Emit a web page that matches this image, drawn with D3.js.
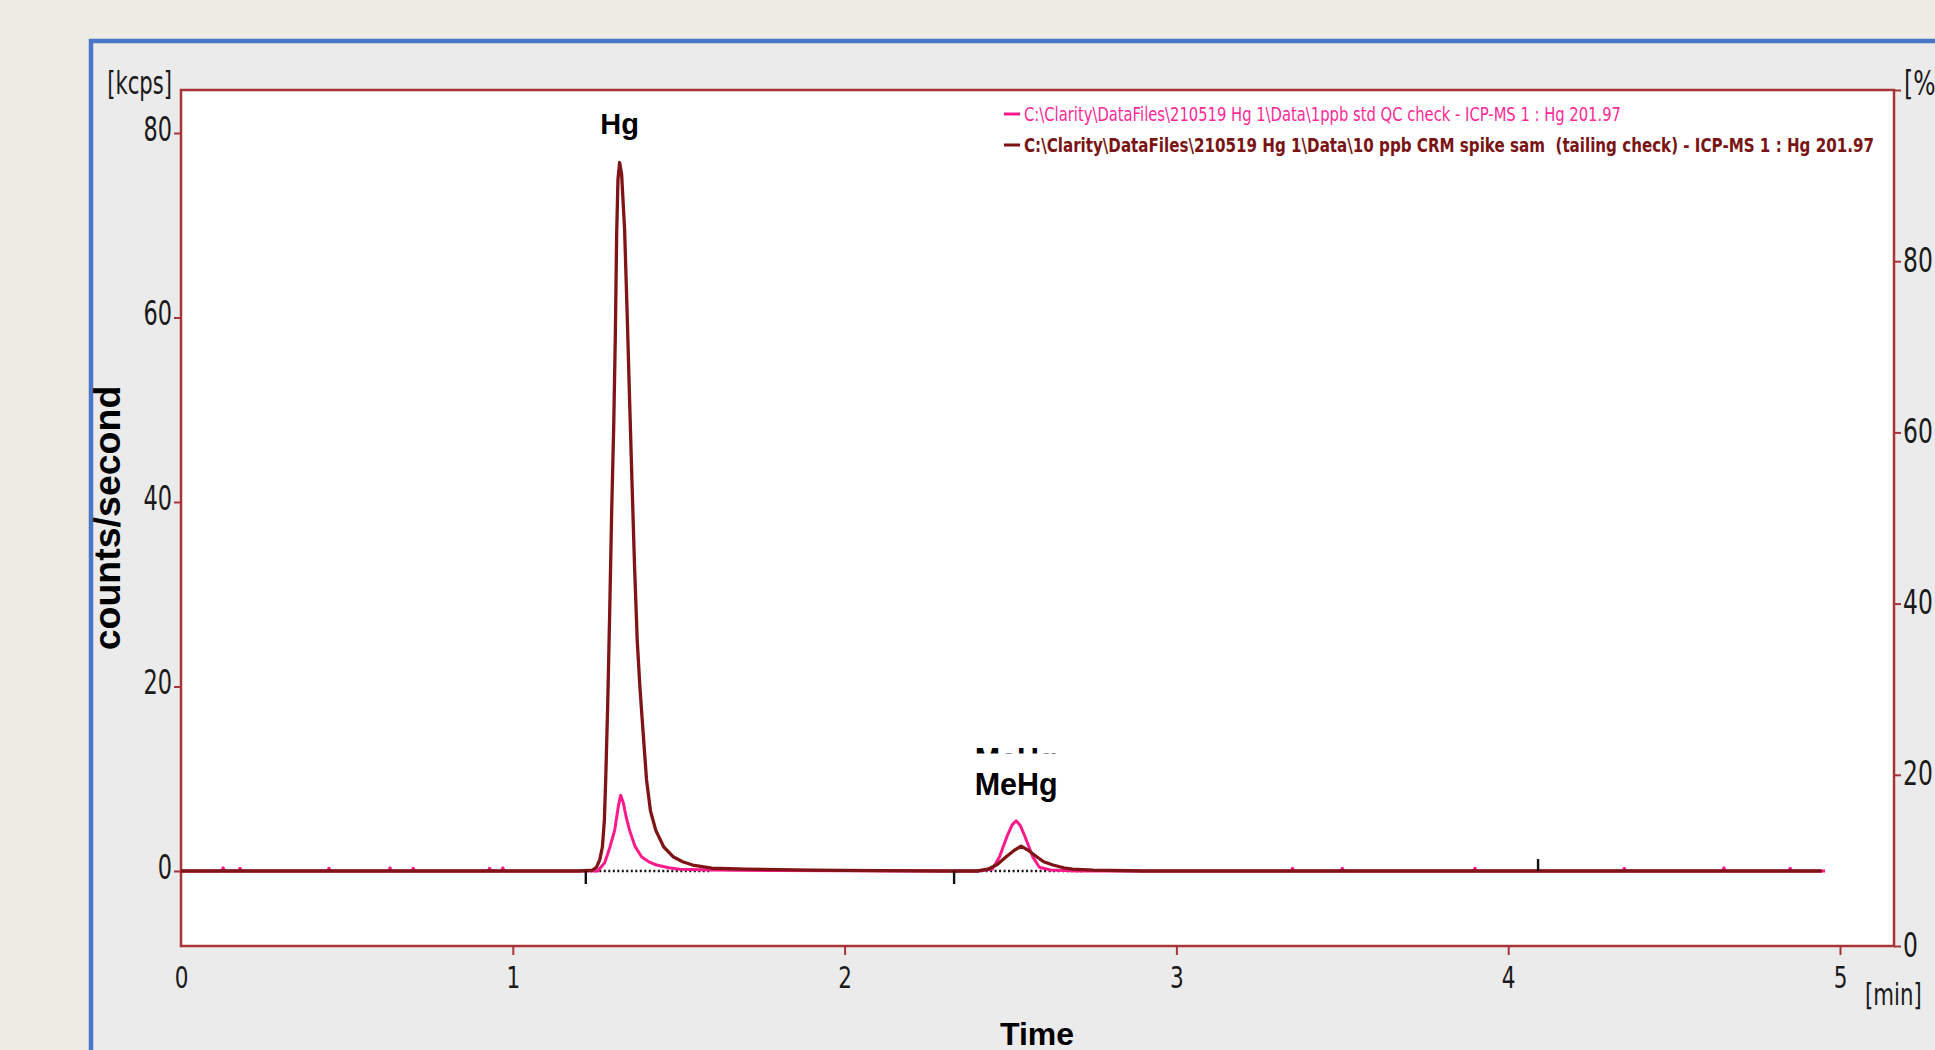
<!DOCTYPE html>
<html>
<head>
<meta charset="utf-8">
<script src="https://cdn.jsdelivr.net/npm/d3@7"></script>
<style>
  body { margin: 0; background: #EEEBE5; overflow: hidden; }
  #mainSvg { width: 1935px; height: 1050px; display: block; }
</style>
</head>
<body>
<svg id="mainSvg"></svg>
<script>
// * chromatogram data: [time min, kcps]
let stdQC = [
    [0.000, 0.0], [0.123, 0.0], [0.127, 0.35], [0.131, 0.0], [0.174, 0.0], [0.178, 0.3], [0.182, 0.0],
    [0.442, 0.0], [0.446, 0.3], [0.450, 0.0], [0.626, 0.0], [0.630, 0.35], [0.634, 0.0],
    [0.696, 0.0], [0.700, 0.3], [0.704, 0.0], [0.926, 0.0], [0.930, 0.3], [0.934, 0.0],
    [0.966, 0.0], [0.970, 0.35], [0.974, 0.0],
    [1.256, 0.0], [1.277, 0.9], [1.292, 2.5], [1.307, 4.4], [1.318, 7.0], [1.325, 8.2], [1.333, 7.4],
    [1.342, 5.8], [1.352, 4.4], [1.368, 2.7], [1.388, 1.55], [1.410, 1.0], [1.433, 0.65], [1.470, 0.35],
    [1.503, 0.2], [1.600, 0.1], [1.800, 0.05], [2.200, 0.0],
    [2.400, 0.0], [2.445, 0.2], [2.467, 1.55], [2.490, 3.8], [2.505, 5.0], [2.517, 5.45], [2.530, 4.9],
    [2.545, 3.6], [2.567, 1.55], [2.587, 0.4], [2.620, 0.1], [2.700, 0.0],
    [3.346, 0.0], [3.350, 0.3], [3.354, 0.0], [3.496, 0.0], [3.500, 0.3], [3.504, 0.0],
    [3.896, 0.0], [3.900, 0.3], [3.904, 0.0], [4.346, 0.0], [4.350, 0.3], [4.354, 0.0],
    [4.646, 0.0], [4.650, 0.35], [4.654, 0.0], [4.846, 0.0], [4.850, 0.3], [4.854, 0.0],
    [4.955, 0.0]
]
let crmSpike = [
    [0.000, 0.0], [1.200, 0.0], [1.240, 0.1], [1.252, 0.4], [1.262, 1.2], [1.270, 2.6], [1.276, 5.5],
    [1.280, 9.9], [1.286, 18.0], [1.292, 28.0], [1.298, 39.0], [1.304, 48.0], [1.309, 58.0], [1.313, 69.0],
    [1.317, 75.0], [1.322, 76.8], [1.328, 75.5], [1.337, 69.5], [1.345, 60.0], [1.352, 51.1],
    [1.359, 42.4], [1.367, 33.0], [1.375, 25.0], [1.383, 20.0], [1.390, 16.4], [1.403, 9.9], [1.415, 6.5],
    [1.431, 4.4], [1.455, 2.6], [1.483, 1.55], [1.512, 1.0], [1.542, 0.65], [1.600, 0.3], [1.700, 0.2],
    [1.900, 0.1], [2.100, 0.05], [2.300, 0.0],
    [2.400, 0.0], [2.432, 0.2], [2.460, 0.7], [2.487, 1.55], [2.510, 2.2], [2.532, 2.7], [2.555, 2.2],
    [2.579, 1.55], [2.600, 1.0], [2.628, 0.65], [2.660, 0.35], [2.687, 0.2], [2.750, 0.1], [2.900, 0.0],
    [4.945, 0.0]
]
let seriesNames = [
    'C:\\Clarity\\DataFiles\\210519 Hg 1\\Data\\1ppb std QC check - ICP-MS 1 : Hg 201.97',
    'C:\\Clarity\\DataFiles\\210519 Hg 1\\Data\\10 ppb CRM spike sam  (tailing check) - ICP-MS 1 : Hg 201.97'
]
let peakNames = ['Hg', 'MeHg']
let peakTimes = [1.322, 2.517]
let eventTimes = [1.22, 2.33, 4.09]
let baselineRanges = [[1.22, 1.60], [2.33, 2.72]]
let timeTicks = [0, 1, 2, 3, 4, 5]
let kcpsTicks = [0, 20, 40, 60, 80]
let pctTicks = [0, 20, 40, 60, 80, 100]

let svg = d3.select('#mainSvg')
let box = { left: 181, right: 1894, top: 90, bottom: 946 }
let axisColor = '#A8343A'
let pink = '#FF1A8C'
let maroon = '#7E1416'
let digitFont = '"DejaVu Sans", Verdana, sans-serif'
let boldFont = '"Liberation Sans", Arial, sans-serif'

let x = d3.scaleLinear().domain([0, 5]).range([box.left, 1840])
let yLeft = d3.scaleLinear().domain([0, 80]).range([871, 133])
let yRight = d3.scaleLinear().domain([0, 100]).range([box.bottom, box.top])

// * window frame
svg.append('rect').attr('x', 91).attr('y', 41).attr('width', 1900).attr('height', 1100)
    .attr('fill', '#EBEBEB').attr('stroke', '#4A76C8').attr('stroke-width', 4.5)

// * plot area
svg.append('rect')
    .attr('x', box.left).attr('y', box.top)
    .attr('width', box.right - box.left).attr('height', box.bottom - box.top)
    .attr('fill', 'white').attr('stroke', axisColor).attr('stroke-width', 2.5)

// * left axis
let gLeft = svg.append('g').attr('transform', 'translate(' + box.left + ',0)')
    .call(d3.axisLeft(yLeft).tickValues(kcpsTicks).tickSize(7))
gLeft.select('.domain').remove()
gLeft.selectAll('line').attr('stroke', axisColor).attr('stroke-width', 2)
gLeft.selectAll('text')
    .attr('x', null).attr('dy', null)
    .attr('transform', 'translate(-9,7) scale(0.68,1)')
    .attr('font-family', digitFont).attr('font-size', 33).attr('fill', '#1a1a1a')

// * right axis (percent)
let gRight = svg.append('g').attr('transform', 'translate(' + box.right + ',0)')
    .call(d3.axisRight(yRight).tickValues(pctTicks).tickSize(7)
        .tickFormat(d => d === 100 ? '[%]' : d))
gRight.select('.domain').remove()
gRight.selectAll('line').attr('stroke', axisColor).attr('stroke-width', 2)
gRight.selectAll('text')
    .attr('x', null).attr('dy', null)
    .attr('transform', d => 'translate(' + (d === 100 ? 10 : 9) + ',' + (d === 100 ? 4 : 10) + ') scale(0.69,1)')
    .attr('font-family', digitFont).attr('font-size', 34).attr('fill', '#1a1a1a')

// * time axis
let gBottom = svg.append('g').attr('transform', 'translate(0,' + box.bottom + ')')
    .call(d3.axisBottom(x).tickValues(timeTicks).tickSize(9).tickFormat(d3.format('d')))
gBottom.select('.domain').remove()
gBottom.selectAll('line').attr('stroke', axisColor).attr('stroke-width', 2)
    .attr('display', d => d === 0 ? 'none' : null)
gBottom.selectAll('text')
    .attr('y', null).attr('dy', null)
    .attr('transform', 'translate(0,42) scale(0.72,1)')
    .attr('font-family', digitFont).attr('font-size', 30).attr('fill', '#1a1a1a')

// * unit labels
svg.append('text').text('[kcps]')
    .attr('transform', 'translate(172,94) scale(0.66,1)')
    .attr('text-anchor', 'end').attr('font-family', digitFont).attr('font-size', 32).attr('fill', '#1a1a1a')
svg.append('text').text('[min]')
    .attr('transform', 'translate(1865,1005) scale(0.71,1)')
    .attr('font-family', digitFont).attr('font-size', 30).attr('fill', '#1a1a1a')

// * axis titles
svg.append('text').text('Time')
    .attr('x', 1037).attr('y', 1045).attr('text-anchor', 'middle')
    .attr('font-family', boldFont).attr('font-weight', 'bold').attr('font-size', 32)
svg.append('text').text('counts/second')
    .attr('transform', 'translate(120,518) rotate(-90)').attr('text-anchor', 'middle')
    .attr('font-family', boldFont).attr('font-weight', 'bold').attr('font-size', 37.5)

// * integration baselines (dotted) and event marks
let base = svg.append('g')
base.selectAll('line')
    .data(baselineRanges)
    .enter()
    .append('line')
    .attr('x1', d => x(d[0])).attr('x2', d => x(d[1]))
    .attr('y1', yLeft(0)).attr('y2', yLeft(0))
    .attr('stroke', '#111').attr('stroke-width', 2.4).attr('stroke-dasharray', '2,2.5')

let line = d3.line().x(d => x(d[0])).y(d => yLeft(d[1]))

svg.append('path').datum(stdQC)
    .attr('d', line).attr('fill', 'none')
    .attr('stroke', pink).attr('stroke-width', 3).attr('stroke-linejoin', 'round')
svg.append('path').datum(crmSpike)
    .attr('d', line).attr('fill', 'none')
    .attr('stroke', maroon).attr('stroke-width', 3.3).attr('stroke-linejoin', 'round')

svg.append('g').selectAll('line')
    .data(eventTimes)
    .enter()
    .append('line')
    .attr('x1', d => x(d)).attr('x2', d => x(d))
    .attr('y1', yLeft(0))
    .attr('y2', (d, i) => i < 2 ? yLeft(0) + 13 : yLeft(0) - 12)
    .attr('stroke', '#111').attr('stroke-width', 2.4)

// * peak labels (the MeHg one has a clipped duplicate above it)
svg.append('text').text(peakNames[1])
    .attr('x', x(peakTimes[1])).attr('y', 770).attr('text-anchor', 'middle')
    .attr('font-family', boldFont).attr('font-weight', 'bold').attr('font-size', 30.5)
svg.append('rect').attr('x', x(peakTimes[1]) - 50).attr('y', 753.5)
    .attr('width', 100).attr('height', 28).attr('fill', 'white')

let peakY = [yLeft(76.8) - 29, yLeft(5.45) - 26]
svg.append('g').selectAll('text')
    .data(peakNames)
    .enter()
    .append('text')
    .text(d => d)
    .attr('x', (d, i) => x(peakTimes[i]))
    .attr('y', (d, i) => peakY[i])
    .attr('text-anchor', 'middle')
    .attr('font-family', boldFont).attr('font-weight', 'bold')
    .attr('font-size', (d, i) => i === 0 ? 29 : 30.5)

// * legend
let legendColors = [pink, maroon]
let legendWidths = [597, 850]
let legendY = [114, 145]
let lg = svg.append('g')
lg.selectAll('line')
    .data(seriesNames)
    .enter()
    .append('line')
    .attr('x1', 1004).attr('x2', 1020)
    .attr('y1', (d, i) => legendY[i]).attr('y2', (d, i) => legendY[i])
    .attr('stroke', (d, i) => legendColors[i]).attr('stroke-width', 3)
lg.selectAll('text')
    .data(seriesNames)
    .enter()
    .append('text')
    .text(d => d)
    .attr('x', 1024)
    .attr('y', (d, i) => legendY[i] + 7)
    .attr('textLength', (d, i) => legendWidths[i])
    .attr('lengthAdjust', 'spacingAndGlyphs')
    .style('white-space', 'pre')
    .attr('font-family', digitFont).attr('font-size', 19)
    .attr('font-weight', (d, i) => i === 1 ? 'bold' : 'normal')
    .attr('fill', (d, i) => i === 0 ? '#FF2A98' : '#7A1414')
</script>
</body>
</html>
